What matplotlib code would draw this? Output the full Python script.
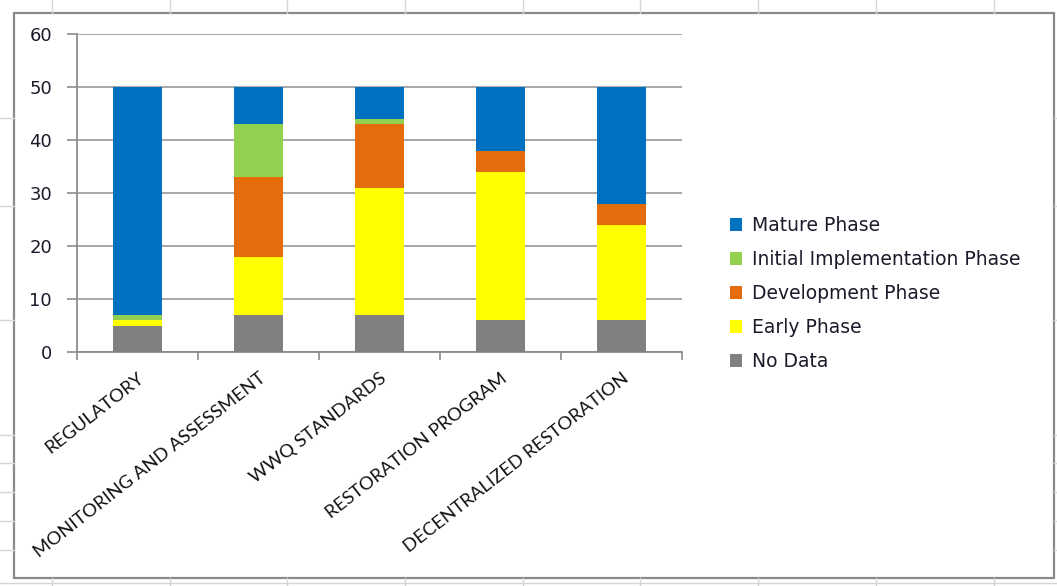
import matplotlib.pyplot as plt
from matplotlib.lines import Line2D
from matplotlib.patches import Rectangle, Patch

# 数据
categories = ['REGULATORY', 'MONITORING AND ASSESSMENT', 'WWQ STANDARDS',
              'RESTORATION PROGRAM', 'DECENTRALIZED RESTORATION']
no_data = [5, 7, 7, 6, 6]
early = [1, 11, 24, 28, 18]
development = [0, 15, 12, 4, 4]
initial_impl = [1, 10, 1, 0, 0]
mature = [43, 7, 6, 12, 22]

series_names = ['No Data', 'Early Phase', 'Development Phase',
                'Initial Implementation Phase', 'Mature Phase']
series_colors = ['#808080', '#FFFF00', '#E46C0A', '#92D050', '#0070C0']
y_ticks = [0, 10, 20, 30, 40, 50, 60]

W, H = 1057, 586
fig = plt.figure(figsize=(W / 100, H / 100), dpi=100)
fig.patch.set_facecolor('white')

# 背景的表格网格线（截图里的 Excel 单元格）
grid_c = '#d6d6d6'
for x in [52, 170, 287, 405, 523, 640, 758, 876, 994]:
    fig.add_artist(Line2D([x / W, x / W], [1, 1 - 13 / H], color=grid_c, lw=1))
    fig.add_artist(Line2D([x / W, x / W], [0, 8 / H], color=grid_c, lw=1))
for y in [118, 206, 320, 435, 463, 492, 521, 550]:
    fig.add_artist(Line2D([0, 14 / W], [1 - y / H, 1 - y / H], color=grid_c, lw=1))
    fig.add_artist(Line2D([1054 / W, 1], [1 - y / H, 1 - y / H], color=grid_c, lw=1))
fig.add_artist(Line2D([0, 1], [3 / H, 3 / H], color=grid_c, lw=1))

# 图表外框
fig.add_artist(Rectangle((14 / W, 1 - 578 / H), 1040 / W, 565 / H,
                         fill=False, edgecolor='#8a8a8a', lw=1.6))

ax = fig.add_axes([77 / W, 1 - 352 / H, 605 / W, 318 / H])
x = list(range(len(categories)))
bottom = [0] * len(categories)
handles = []
for name, vals, col in zip(series_names,
                           [no_data, early, development, initial_impl, mature],
                           series_colors):
    ax.bar(x, vals, width=0.4, bottom=bottom, color=col, zorder=3, label=name)
    bottom = [b + v for b, v in zip(bottom, vals)]
    handles.append(Patch(facecolor=col, edgecolor='none', label=name))

ax.set_xlim(-0.5, len(categories) - 0.5)
ax.set_ylim(0, 60)
ax.set_yticks(y_ticks)
ax.yaxis.grid(True, color='#a0a0a0', lw=1.3, zorder=0)
ax.set_axisbelow(True)
for s in ['top', 'right']:
    ax.spines[s].set_visible(False)
for s in ['left', 'bottom']:
    ax.spines[s].set_color('#8c8c8c')
    ax.spines[s].set_linewidth(1.3)

ax.tick_params(axis='y', length=7, width=1.2, color='#8c8c8c', pad=11,
               labelsize=13, labelcolor='#1a1a2a')
ax.set_xticks(x)
ax.set_xticklabels(categories, rotation=38, ha='right', rotation_mode='anchor',
                   fontsize=13.3, family='Lato', color='#111111')
ax.tick_params(axis='x', which='major', length=0, pad=13)
ax.set_xticks([i - 0.5 for i in range(len(categories) + 1)], minor=True)
ax.tick_params(axis='x', which='minor', length=6, width=1.2, color='#8c8c8c')

fig.legend(handles=handles[::-1], loc='center left',
           bbox_to_anchor=(713 / W, 1 - 293.5 / H), frameon=False,
           prop={'family': 'DejaVu Sans', 'size': 13.5},
           handlelength=0.66, handleheight=0.66,
           handletextpad=0.5, labelspacing=0.8, labelcolor='#1a1a2a')

fig.savefig('out.png', dpi=100)
